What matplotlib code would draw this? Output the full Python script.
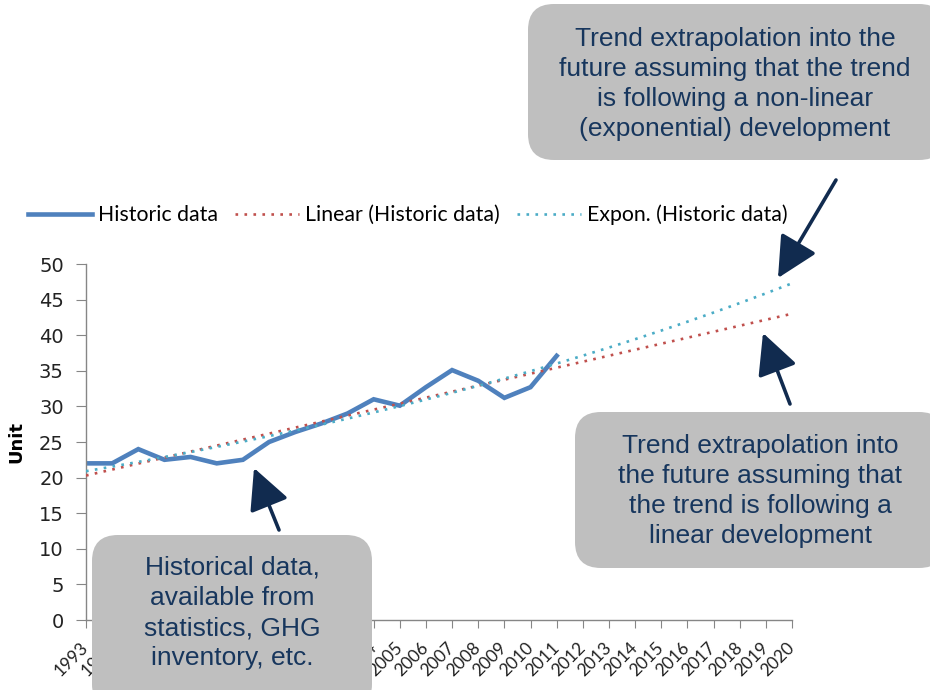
import numpy as np
import matplotlib.pyplot as plt
from matplotlib.patches import FancyBboxPatch, FancyArrowPatch
from matplotlib.transforms import IdentityTransform

# data
years = list(range(1993, 2021))
hist_years = list(range(1993, 2012))
hist_values = [22.0, 22.0, 24.0, 22.5, 22.9, 22.0, 22.5, 25.0, 26.4, 27.6,
               29.0, 31.0, 30.1, 32.7, 35.1, 33.6, 31.2, 32.7, 37.1]

# Excel style trendlines, forecast forward to 2020
t_hist = np.array(hist_years) - 1993
t_all = np.array(years) - 1993
lin = np.polyfit(t_hist, hist_values, 1)
lin_values = np.polyval(lin, t_all)
ex = np.polyfit(t_hist, np.log(hist_values), 1)
exp_values = np.exp(np.polyval(ex, t_all))

blue = '#4F81BD'
red = '#C0504D'
cyan = '#4BACC6'
navy = '#112B4F'
box_grey = '#BFBFBF'
txt_navy = '#17365D'
axis_grey = '#868686'

W, H = 930, 690
fig = plt.figure(figsize=(W / 100, H / 100), dpi=100)
ax = fig.add_axes([86 / W, 1 - 620 / H, (792 - 86) / W, (620 - 264) / H])

ax.plot(hist_years, hist_values, color=blue, lw=3.3, label='Historic data',
        solid_joinstyle='miter', zorder=2)
ax.plot(years, lin_values, color=red, lw=1.9, linestyle=(0, (1, 2.4)),
        label='Linear (Historic data)', zorder=3)
ax.plot(years, exp_values, color=cyan, lw=1.9, linestyle=(0, (1, 2.4)),
        label='Expon. (Historic data)', zorder=3)

ax.set_xlim(1993, 2020)
ax.set_ylim(0, 50)
ax.set_yticks(range(0, 51, 5))
ax.set_xticks(years)
ax.set_xticklabels([str(y) for y in years], rotation=45, ha='right',
                   va='center', rotation_mode='anchor', fontsize=12.5,
                   family='Lato', color='#222222')
ax.tick_params(axis='x', length=6, color=axis_grey, pad=12)
ax.tick_params(axis='y', length=7, color=axis_grey, labelsize=14,
               labelcolor='#222222', pad=9)
for lbl in ax.get_yticklabels():
    lbl.set_family('DejaVu Sans')
for s in ['top', 'right']:
    ax.spines[s].set_visible(False)
for s in ['left', 'bottom']:
    ax.spines[s].set_color(axis_grey)
    ax.spines[s].set_linewidth(1)
ax.set_ylabel('Unit', fontsize=13, fontweight='bold', family='DejaVu Sans',
              labelpad=10)

fig.legend(loc='center', bbox_to_anchor=(408 / W, 1 - 215 / H), ncol=3,
           frameon=False, handlelength=3.0, columnspacing=0.8,
           handletextpad=0.3, prop={'family': 'Lato', 'size': 15.3})


def px(x, y):
    # top-left pixel coords -> display coords
    return (x, H - y)


def note_box(x0, y0, x1, y1, text, cx, cy):
    bx = FancyBboxPatch(px(x0, y1), x1 - x0, y1 - y0,
                        boxstyle='round,pad=0,rounding_size=26',
                        transform=IdentityTransform(), facecolor=box_grey,
                        edgecolor='none', zorder=5)
    fig.patches.append(bx)
    fig.text(cx / W, 1 - cy / H, text, ha='center', va='center',
             fontsize=19, family='Liberation Sans', color=txt_navy,
             linespacing=1.33, zorder=6)


def arrow(x0, y0, x1, y1):
    ar = FancyArrowPatch(px(x0, y0), px(x1, y1), transform=IdentityTransform(),
                         arrowstyle='-|>,head_length=1.4,head_width=0.7',
                         mutation_scale=18, color=navy, lw=2.6,
                         shrinkA=0, shrinkB=0, zorder=7)
    fig.patches.append(ar)


note_box(528, 4, 945, 160,
         'Trend extrapolation into the\nfuture assuming that the trend\n'
         'is following a non-linear\n(exponential) development', 735, 84)
note_box(575, 412, 945, 568,
         'Trend extrapolation into\nthe future assuming that\n'
         'the trend is following a\nlinear development', 760, 491)
note_box(92, 535, 372, 710,
         'Historical data,\navailable from\nstatistics, GHG\ninventory, etc.', 232, 613)

arrow(836, 180, 778, 278)
arrow(790, 404, 763, 333)
arrow(279, 530, 254, 468)

fig.savefig('out.png', dpi=100)
